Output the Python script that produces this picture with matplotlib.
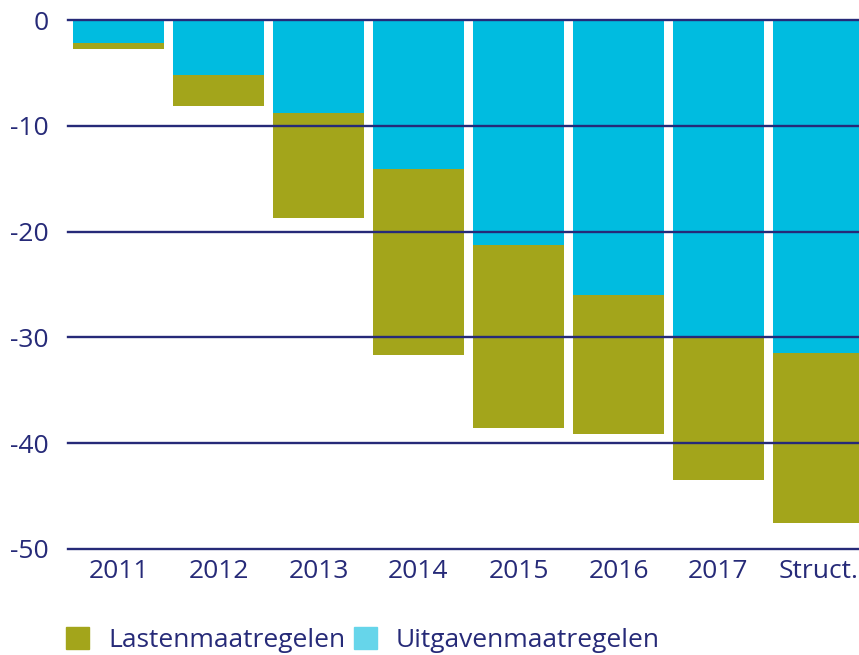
import matplotlib
matplotlib.use("Agg")
import matplotlib.pyplot as plt
from matplotlib.patches import Patch
import numpy as np

categories = ["2011", "2012", "2013", "2014", "2015", "2016", "2017", "Struct."]
uitgaven = [-2.2, -5.2, -8.8, -14.1, -21.3, -26.0, -29.9, -31.5]
lasten = [-0.5, -2.9, -9.9, -17.6, -17.3, -13.1, -13.6, -16.0]
yticks = [0, -10, -20, -30, -40, -50]

olive = "#A3A51B"
cyan = "#00BCE0"
cyan_legend = "#66D5EA"
navy = "#262A78"

plt.rcParams['font.family'] = ['Open Sans', 'DejaVu Sans']

W, H = 859, 655
fig = plt.figure(figsize=(W / 100, H / 100), dpi=100)
ax = fig.add_axes([68 / W, (H - 549) / H, (W - 68) / W, (549 - 20) / H])

x = np.arange(len(categories))
ax.bar(x, uitgaven, width=0.91, color=cyan, zorder=1)
ax.bar(x, lasten, bottom=uitgaven, width=0.91, color=olive, zorder=1)

for t in yticks:
    ax.axhline(t, color=navy, lw=1.7, zorder=3, clip_on=False)

ax.set_ylim(-50, 0)
ax.set_xlim(-0.505, 7.405)
ax.set_yticks(yticks)
ax.set_yticklabels([str(t) for t in yticks])
ax.set_xticks(x)
ax.set_xticklabels(categories)
ax.tick_params(axis='both', length=0, labelsize=19, labelcolor=navy)
ax.tick_params(axis='y', pad=14)
ax.tick_params(axis='x', pad=7)
for s in ax.spines.values():
    s.set_visible(False)

handles = [Patch(color=olive, label="Lastenmaatregelen"),
           Patch(color=cyan_legend, label="Uitgavenmaatregelen")]
leg = fig.legend(handles=handles, loc='lower left', bbox_to_anchor=(66 / W, 2 / H),
                 ncol=2, frameon=False, fontsize=19, handlelength=0.87, handleheight=0.87,
                 handletextpad=0.72, columnspacing=0.34, borderpad=0, borderaxespad=0)
for t in leg.get_texts():
    t.set_color(navy)

fig.savefig("out.png", dpi=100)
